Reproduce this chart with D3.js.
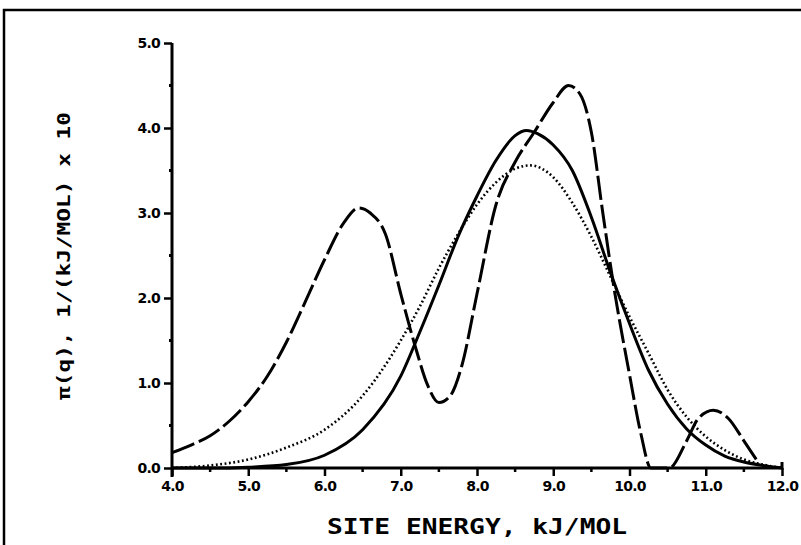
<!DOCTYPE html>
<html>
<head>
<meta charset="utf-8">
<script src="https://cdn.jsdelivr.net/npm/d3@7"></script>
<style>
  html, body { margin: 0; padding: 0; background: #fff; }
  svg { display: block; }
</style>
</head>
<body>
<svg id="chart" width="801" height="545"></svg>
<script>
// site energy (kJ/mol) and distribution values for the three curves
const solidEnergy = [4.0, 4.5, 5.0, 5.5, 6.0, 6.5, 7.0, 7.25, 7.5, 7.75, 8.0, 8.25, 8.5, 8.65, 8.8, 9.0, 9.25, 9.5, 9.75, 10.0, 10.25, 10.5, 10.75, 11.0, 11.25, 11.5, 11.75, 12.0];
const solidValue  = [0.0, 0.0, 0.01, 0.04, 0.15, 0.45, 1.08, 1.6, 2.15, 2.72, 3.2, 3.62, 3.91, 3.97, 3.93, 3.8, 3.5, 2.95, 2.3, 1.7, 1.15, 0.75, 0.46, 0.27, 0.14, 0.07, 0.03, 0.0];

const dottedEnergy = [4.0, 4.5, 5.0, 5.5, 6.0, 6.5, 7.0, 7.25, 7.5, 7.75, 8.0, 8.25, 8.5, 8.7, 9.0, 9.25, 9.5, 9.75, 10.0, 10.25, 10.5, 10.75, 11.0, 11.25, 11.5, 11.75, 12.0];
const dottedValue  = [0.0, 0.03, 0.1, 0.24, 0.45, 0.85, 1.5, 1.9, 2.35, 2.75, 3.1, 3.36, 3.52, 3.56, 3.42, 3.12, 2.72, 2.25, 1.78, 1.35, 0.92, 0.6, 0.37, 0.21, 0.1, 0.04, 0.0];

const dashedEnergy = [4.0, 4.25, 4.5, 4.75, 5.0, 5.25, 5.5, 5.75, 6.0, 6.25, 6.45, 6.6, 6.8, 7.0, 7.2, 7.35, 7.5, 7.65, 7.8, 8.0, 8.25, 8.5, 8.75, 9.0, 9.2, 9.35, 9.5, 9.65, 9.8, 10.0, 10.15, 10.28, 10.52, 10.75, 10.9, 11.1, 11.3, 11.5, 11.7];
const dashedValue  = [0.18, 0.27, 0.38, 0.55, 0.78, 1.08, 1.48, 1.96, 2.45, 2.88, 3.06, 3.0, 2.75, 2.05, 1.4, 0.98, 0.77, 0.85, 1.2, 2.05, 3.1, 3.6, 3.95, 4.3, 4.5, 4.4, 3.95, 3.0, 2.1, 1.1, 0.4, 0.0, 0.0, 0.32, 0.58, 0.68, 0.58, 0.32, 0.05];

const yTicks = [0, 1, 2, 3, 4, 5];
const yTickLabels = ['0.0', '1.0', '2.0', '3.0', '4.0', '5.0'];
const xTicks = [4, 5, 6, 7, 8, 9, 10, 11, 12];
const xTickLabels = ['4.0', '5.0', '6.0', '7.0', '8.0', '9.0', '10.0', '11.0', '12.0'];

const X_TITLE = 'SITE ENERGY, kJ/MOL';
const Y_TITLE = 'π(q), 1/(kJ/MOL) x 10';

const INK = '#000';
const LEFT = 172, RIGHT = 782, TOP = 43, BOTTOM = 468;

const svg = d3.select('#chart');

const x = d3.scaleLinear().domain([4, 12]).range([LEFT, RIGHT]);
const y = d3.scaleLinear().domain([0, 5]).range([BOTTOM, TOP]);

// outer frame (left and top edges only, as on the scan)
svg.append('path')
    .attr('d', `M4,545 L4,10 L801,10`)
    .attr('fill', 'none')
    .attr('stroke', INK)
    .attr('stroke-width', 2.5);

// y axis
const yAxis = d3.axisLeft(y)
    .tickValues(yTicks)
    .tickFormat((d, i) => yTickLabels[i])
    .tickSize(8)
    .tickSizeOuter(0)
    .tickPadding(4);

const gy = svg.append('g')
    .attr('transform', `translate(${LEFT},0)`)
    .call(yAxis);

gy.select('.domain').attr('stroke', INK).attr('stroke-width', 3)
    .attr('d', `M0,${BOTTOM + 9}V${TOP}`);
gy.selectAll('.tick line').attr('stroke', INK).attr('stroke-width', 2.5);

// minor y ticks
svg.append('g').selectAll('line')
    .data(d3.range(0.5, 5, 1))
    .join('line')
    .attr('x1', LEFT - 3).attr('x2', LEFT)
    .attr('y1', d => y(d)).attr('y2', d => y(d))
    .attr('stroke', INK).attr('stroke-width', 3);

// x axis
const xAxis = d3.axisBottom(x)
    .tickValues(xTicks)
    .tickFormat((d, i) => xTickLabels[i])
    .tickSize(8)
    .tickSizeOuter(0)
    .tickPadding(5);

const gx = svg.append('g')
    .attr('transform', `translate(0,${BOTTOM})`)
    .call(xAxis);

gx.select('.domain').attr('stroke', INK).attr('stroke-width', 3)
    .attr('d', `M${LEFT},0H${RIGHT}V-6`);
gx.selectAll('.tick line').attr('stroke', INK).attr('stroke-width', 2.5);

// minor x ticks
svg.append('g').selectAll('line')
    .data(d3.range(4.5, 12, 1))
    .join('line')
    .attr('x1', d => x(d)).attr('x2', d => x(d))
    .attr('y1', BOTTOM).attr('y2', BOTTOM + 4)
    .attr('stroke', INK).attr('stroke-width', 2.5);

svg.selectAll('.tick text')
    .style('font-family', '"DejaVu Sans", sans-serif')
    .style('font-size', '14px')
    .style('font-weight', '900')
    .style('letter-spacing', '-0.8px')
    .attr('fill', INK);

// axis titles
svg.append('text')
    .attr('x', (LEFT + RIGHT) / 2)
    .attr('y', 534)
    .attr('text-anchor', 'middle')
    .attr('textLength', 300)
    .attr('lengthAdjust', 'spacingAndGlyphs')
    .style('font-family', '"DejaVu Sans Mono", monospace')
    .style('font-size', '21px')
    .style('font-weight', '700')
    .attr('fill', INK)
    .text(X_TITLE);

svg.append('text')
    .attr('transform', 'translate(70,256) rotate(-90)')
    .attr('text-anchor', 'middle')
    .attr('textLength', 288)
    .attr('lengthAdjust', 'spacingAndGlyphs')
    .style('font-family', '"DejaVu Sans Mono", monospace')
    .style('font-size', '17px')
    .style('font-weight', '700')
    .attr('fill', INK)
    .text(Y_TITLE);

// curves
const line = d3.line()
    .x(d => x(d[0]))
    .y(d => y(d[1]))
    .curve(d3.curveMonotoneX);

const series = [
    { e: dottedEnergy, v: dottedValue, width: 2.6, dash: '1.8,2.6' },
    { e: solidEnergy, v: solidValue, width: 3, dash: null },
    { e: dashedEnergy, v: dashedValue, width: 3, dash: '24,5' }
];

series.forEach(s => {
    svg.append('path')
        .datum(d3.zip(s.e, s.v))
        .attr('d', line)
        .attr('fill', 'none')
        .attr('stroke', INK)
        .attr('stroke-width', s.width)
        .attr('stroke-linecap', 'butt')
        .attr('stroke-dasharray', s.dash);
});
</script>
</body>
</html>
